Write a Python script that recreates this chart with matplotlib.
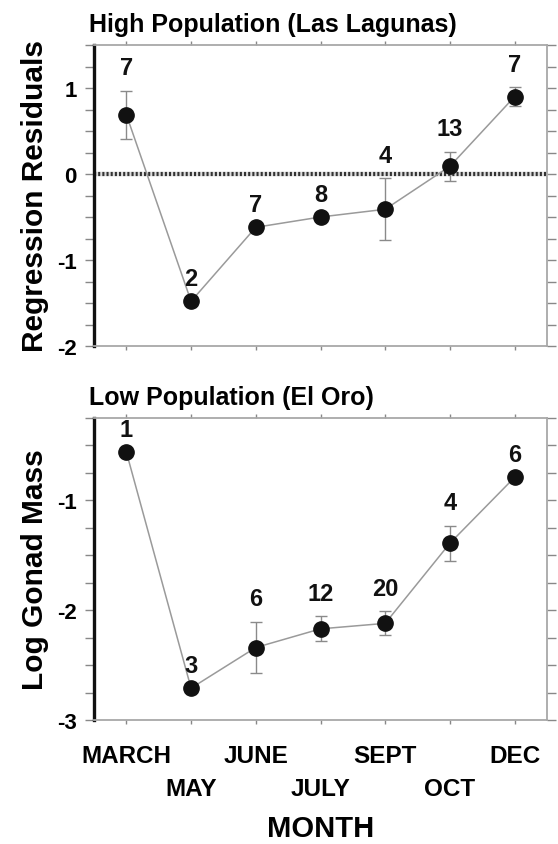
import matplotlib
matplotlib.use("Agg")
import matplotlib.pyplot as plt
import numpy as np
from matplotlib.ticker import MultipleLocator

plt.rcParams['font.family'] = ['Liberation Sans', 'DejaVu Sans']
plt.rcParams['font.weight'] = 'bold'

# months along the x axis (staggered labels)
months = ['MARCH', 'MAY', 'JUNE', 'JULY', 'SEPT', 'OCT', 'DEC']

# high population (Las Lagunas): regression residuals
high_vals = [0.69, -1.48, -0.62, -0.50, -0.41, 0.09, 0.90]
high_err = [0.28, 0.0, 0.0, 0.0, 0.36, 0.17, 0.11]
high_n = [7, 2, 7, 8, 4, 13, 7]

# low population (El Oro): log gonad mass
low_vals = [-0.56, -2.71, -2.34, -2.17, -2.12, -1.39, -0.79]
low_err = [0.0, 0.0, 0.235, 0.115, 0.11, 0.16, 0.0]
low_n = [1, 3, 6, 12, 20, 4, 6]

LINE_GREY = '#9a9a9a'
SPINE_GREY = '#a8a8a8'

fig = plt.figure(figsize=(5.58, 8.45), dpi=100)
W, H = 558, 845
ax1 = fig.add_axes([94 / W, 1 - 347 / H, (547 - 94) / W, (347 - 46) / H])
ax2 = fig.add_axes([94 / W, 1 - 721 / H, (547 - 94) / W, (721 - 419) / H])


def style_axis(ax, ylim):
    x = np.arange(len(months))
    ax.set_xlim(-0.5, len(months) - 0.5)
    ax.set_ylim(*ylim)
    ax.set_xticks(x)
    ax.yaxis.set_major_locator(MultipleLocator(1))
    ax.yaxis.set_minor_locator(MultipleLocator(0.25))
    for side in ['top', 'right', 'bottom']:
        ax.spines[side].set_color(SPINE_GREY)
        ax.spines[side].set_linewidth(1.3)
    ax.spines['left'].set_color('#111111')
    ax.spines['left'].set_linewidth(2.4)
    ax.tick_params(axis='y', which='both', direction='out', length=6.5,
                   width=1.0, color='#888888', right=True, labelsize=16, pad=6)
    ax.tick_params(axis='x', which='both', direction='out', length=3,
                   width=1.0, color='#888888', top=True)
    ax.set_yticklabels([f'{v:g}' for v in ax.get_yticks()], fontweight='bold')


def draw_series(ax, vals, err, counts):
    x = np.arange(len(months))
    ax.plot(x, vals, color=LINE_GREY, lw=1.1, zorder=2)
    ax.errorbar(x, vals, yerr=err, fmt='none', ecolor='#8a8a8a',
                elinewidth=1.0, capsize=4, capthick=1.0, zorder=2)
    ax.plot(x, vals, 'o', color='#111111', markersize=11, zorder=3)
    for xi, v, e, n in zip(x, vals, err, counts):
        y0 = ax.transData.transform((xi, v))[1]
        y1 = ax.transData.transform((xi, v + e))[1]
        ax.annotate(str(n), xy=(xi, v), xytext=(0, (y1 - y0) + 23),
                    textcoords='offset pixels', ha='center', va='center',
                    fontsize=17, fontweight='bold', color='#111111')


# top panel
style_axis(ax1, (-2, 1.5))
ax1.set_xticklabels([])
ax1.axhline(0, color='#dddddd', lw=3.2, zorder=1)
ax1.axhline(0, color='#333333', lw=3.0, linestyle=(0, (0.5, 0.5)), zorder=1)
draw_series(ax1, high_vals, high_err, high_n)
ax1.set_ylabel('Regression Residuals', fontsize=21.5, fontweight='bold', labelpad=6)
ax1.set_title('High Population (Las Lagunas)', fontsize=18, fontweight='bold',
              loc='left', x=-0.01, pad=10)

# bottom panel
style_axis(ax2, (-3, -0.25))
ax2.set_xticklabels(months, fontsize=17.5, fontweight='bold')
for i, tick in enumerate(ax2.xaxis.get_major_ticks()):
    tick.set_pad(14 if i % 2 == 0 else 38)
draw_series(ax2, low_vals, low_err, low_n)
ax2.set_ylabel('Log Gonad Mass', fontsize=21.5, fontweight='bold', labelpad=6)
ax2.set_title('Low Population (El Oro)', fontsize=18, fontweight='bold',
              loc='left', x=-0.01, pad=10)
ax2.set_xlabel('MONTH', fontsize=21, fontweight='bold', labelpad=10)

fig.savefig('out.png', dpi=100)
